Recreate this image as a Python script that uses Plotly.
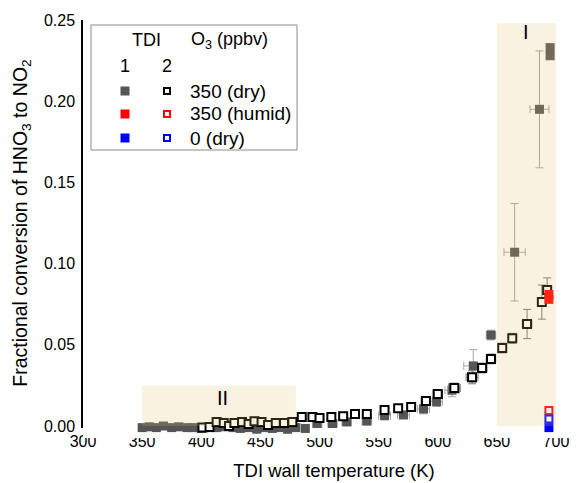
import plotly.graph_objects as go

# ---------------- data ----------------
# TDI 1, 350 ppbv O3 (dry) - filled grey
t1_dry_T = [350, 356, 362, 368, 375, 381, 388, 394, 400, 407, 413, 420, 427, 433, 440, 447, 453, 460,
            467, 473, 480, 488, 498, 511, 523, 540, 555, 571, 588, 599, 612, 630, 645, 665, 686, 695, 695]
t1_dry_v = [-0.001, -0.0005, -0.001, 0.0, -0.001, -0.0005, -0.001, -0.001, -0.0015, -0.001, -0.001,
            -0.0005, -0.001, -0.0015, -0.001, -0.002, -0.001, -0.0015, -0.001, -0.002, -0.001, -0.0015,
            0.0015, 0.0015, 0.0025, 0.003, 0.0063, 0.0068, 0.0105, 0.015, 0.022, 0.037, 0.056, 0.107,
            0.195, 0.228, 0.233]
t1_dry_ey = [0.001, 0.001, 0.001, 0.001, 0.001, 0.001, 0.001, 0.001, 0.001, 0.001, 0.001, 0.001, 0.001,
             0.001, 0.001, 0.001, 0.001, 0.001, 0.001, 0.001, 0.001, 0.001, 0.001, 0.002, 0.002, 0.002,
             0.002, 0.002, 0.003, 0.003, 0.004, 0.010, 0.003, 0.030, 0.036, 0.0, 0.0]
t1_dry_ex = [3, 3, 3, 3, 3, 3, 3, 3, 3, 3, 3, 3, 3, 3, 3, 3, 3, 3, 3, 3, 3, 3, 4, 4, 4, 4, 5, 5, 5, 5, 6,
             8, 4, 9, 8, 0, 0]

# TDI 2, 350 ppbv O3 (dry) - open black
t2_dry_T = [401, 407, 413, 419, 423.5, 428, 434.5, 440, 445, 451, 456.5, 463, 470, 477, 485, 494, 500,
            510, 520, 530, 540, 555, 566.5, 577.5, 590, 600, 614, 629, 637.5, 645, 654.5, 663, 675.5,
            688, 692.5]
t2_dry_v = [-0.001, -0.0006, 0.0025, 0.0018, 0.0, 0.0018, 0.0025, 0.0012, 0.003, 0.0025, 0.0006, 0.0018,
            0.0018, 0.0025, 0.0055, 0.0055, 0.005, 0.0055, 0.006, 0.0074, 0.0074, 0.0098, 0.011, 0.0117,
            0.0154, 0.0197, 0.0234, 0.030, 0.0357, 0.0413, 0.048, 0.054, 0.0628, 0.0763, 0.0837]
t2_dry_ey = [0.001, 0.001, 0.001, 0.001, 0.001, 0.001, 0.001, 0.001, 0.001, 0.001, 0.001, 0.001, 0.001,
             0.001, 0.001, 0.001, 0.001, 0.001, 0.001, 0.001, 0.001, 0.0015, 0.0015, 0.0015, 0.002, 0.002,
             0.003, 0.004, 0.003, 0.003, 0.003, 0.003, 0.009, 0.0105, 0.0075]
t2_dry_ex = [2, 2, 2, 2, 2, 2, 2, 2, 2, 2, 2, 2, 2, 2, 2, 2, 2, 3, 3, 3, 3, 3, 3, 3, 4, 4, 5, 5, 4, 4,
             3, 3, 4, 3, 3]

# TDI 1, 350 ppbv O3 (humid) - filled red
t1_hum_T = [694, 694]
t1_hum_v = [0.081, 0.078]
# TDI 2, 350 ppbv O3 (humid) - open red
t2_hum_T = [694]
t2_hum_v = [0.0095]
# TDI 1, 0 ppbv O3 (dry) - filled blue
t1_zero_T = [694]
t1_zero_v = [-0.001]
# TDI 2, 0 ppbv O3 (dry) - open blue
t2_zero_T = [694]
t2_zero_v = [0.0043]

x_ticks = [300, 350, 400, 450, 500, 550, 600, 650, 700]
y_ticks = [0.00, 0.05, 0.10, 0.15, 0.20, 0.25]
y_tick_labels = ["0.00", "0.05", "0.10", "0.15", "0.20", "0.25"]

region_I = dict(x0=650, x1=700, y0=0.0, y1=0.248)
region_II = dict(x0=350, x1=480, y0=0.0, y1=0.025)

legend_rows = ["350 (dry)", "350 (humid)", "0 (dry)"]

# ---------------- style ----------------
GREY = "rgb(85,85,85)"
ERR = "rgb(165,165,165)"
FONT = "Liberation Sans, Arial, sans-serif"

W, H = 586, 483
OFF = 8                # default page body margin that offsets the figure
L, T = 83, 20          # plot-area left / top on the page (px)
PW, PH = 502, 406      # visible axes box (px)
EXT = 12               # extra px below y=0 where data markers may spill
Y_MAX = 0.25
Y_MIN_DATA = -EXT * Y_MAX / PH
PH_ALL = PH + EXT

fig = go.Figure()

common = dict(mode="markers", cliponaxis=False, xaxis="x", yaxis="y2", showlegend=False)

fig.add_trace(go.Scatter(
    x=t1_dry_T, y=t1_dry_v,
    marker=dict(symbol="square", size=9, color=GREY),
    error_y=dict(type="data", array=t1_dry_ey, color=ERR, thickness=1, width=4),
    error_x=dict(type="data", array=t1_dry_ex, color=ERR, thickness=1, width=4), **common))

fig.add_trace(go.Scatter(
    x=t2_dry_T, y=t2_dry_v,
    marker=dict(symbol="square", size=8, color="white", line=dict(color="black", width=2)),
    error_y=dict(type="data", array=t2_dry_ey, color="rgb(120,120,120)", thickness=1, width=4),
    error_x=dict(type="data", array=t2_dry_ex, color="rgb(120,120,120)", thickness=1, width=4),
    **common))

fig.add_trace(go.Scatter(x=t1_hum_T, y=t1_hum_v,
                         marker=dict(symbol="square", size=9, color="rgb(255,0,0)"), **common))
fig.add_trace(go.Scatter(x=t2_hum_T, y=t2_hum_v,
                         marker=dict(symbol="square", size=7, color="white",
                                     line=dict(color="rgb(255,0,0)", width=2)), **common))
fig.add_trace(go.Scatter(x=t1_zero_T, y=t1_zero_v,
                         marker=dict(symbol="square", size=9, color="rgb(0,0,255)"), **common))
fig.add_trace(go.Scatter(x=t2_zero_T, y=t2_zero_v,
                         marker=dict(symbol="square", size=7, color="white",
                                     line=dict(color="rgb(0,0,255)", width=2)), **common))

shapes = []
for reg in (region_I, region_II):
    shapes.append(dict(type="rect", xref="x", yref="y", layer="above", line=dict(width=0),
                       fillcolor="rgb(230,190,105)", opacity=0.2, **reg))


def px2paper(px, py):
    return (px - L) / PW, (T + PH_ALL - py) / PH_ALL


# ---- manual legend (paper coordinates) ----
bx0, by0 = px2paper(91, 150)
bx1, by1 = px2paper(297, 25)
shapes.append(dict(type="rect", xref="paper", yref="paper", x0=bx0, x1=bx1, y0=by0, y1=by1,
                   line=dict(color="rgb(140,140,140)", width=1), fillcolor="white", layer="above"))

row_py = [91, 114, 138]
fill_cols = [GREY, "rgb(255,0,0)", "rgb(0,0,255)"]
open_cols = ["black", "rgb(255,0,0)", "rgb(0,0,255)"]
annotations = []
for py, fc, oc, lab in zip(row_py, fill_cols, open_cols, legend_rows):
    cx, cy = px2paper(125, py)
    hw, hh = 4.5 / PW, 4.5 / PH_ALL
    shapes.append(dict(type="rect", xref="paper", yref="paper", x0=cx - hw, x1=cx + hw,
                       y0=cy - hh, y1=cy + hh, fillcolor=fc, line=dict(width=0), layer="above"))
    cx, cy = px2paper(167, py)
    hw, hh = 3 / PW, 3 / PH_ALL
    shapes.append(dict(type="rect", xref="paper", yref="paper", x0=cx - hw, x1=cx + hw,
                       y0=cy - hh, y1=cy + hh, fillcolor="white", line=dict(color=oc, width=2),
                       layer="above"))
    tx, ty = px2paper(188, py)
    annotations.append(dict(x=tx, y=ty, xref="paper", yref="paper", text=lab, showarrow=False,
                            xanchor="left", yanchor="middle", font=dict(size=19, color="black")))

for txt, pxx, pyy in [("TDI", 146, 40), ("O<sub>3</sub> (ppbv)", 229, 41), ("1", 125, 66), ("2", 167, 66)]:
    ax, ay = px2paper(pxx, pyy)
    annotations.append(dict(x=ax, y=ay, xref="paper", yref="paper", text=txt, showarrow=False,
                            xanchor="center", yanchor="middle", font=dict(size=18, color="black")))

annotations.append(dict(x=675, y=0.2425, xref="x", yref="y", text="I", showarrow=False,
                        font=dict(size=20, color="black")))
annotations.append(dict(x=418, y=0.0175, xref="x", yref="y", text="II", showarrow=False,
                        font=dict(size=20, color="black")))

fig.update_layout(
    width=W, height=H,
    margin=dict(l=L - OFF, r=W - (L - OFF) - PW, t=T - OFF, b=H - (T - OFF) - PH_ALL),
    plot_bgcolor="white", paper_bgcolor="white",
    font=dict(family=FONT, color="black", size=16),
    shapes=shapes, annotations=annotations,
    showlegend=False,
    xaxis=dict(range=[300, 724.5], tickvals=x_ticks, ticks="inside", ticklen=6, tickwidth=1.5,
               anchor="y", automargin=False,
               showline=True, linecolor="black", linewidth=1.5, showgrid=False, zeroline=False,
               tickfont=dict(size=16), title=dict(text="TDI wall temperature (K)", font=dict(size=18.5),
                                                   standoff=15)),
    yaxis=dict(range=[0, Y_MAX], domain=[EXT / PH_ALL, 1], tickvals=y_ticks, ticktext=y_tick_labels,
               ticks="inside", ticklen=6, anchor="x", automargin=False, ticklabelstandoff=3,
               tickwidth=1.5, showline=True, linecolor="black", linewidth=1.5, showgrid=False,
               zeroline=False, tickfont=dict(size=16),
               title=dict(text="Fractional conversion of HNO<sub>3</sub> to NO<sub>2</sub>",
                          font=dict(size=19.5), standoff=11)),
    yaxis2=dict(range=[Y_MIN_DATA, Y_MAX], domain=[0, 1], visible=False, anchor="x",
                showgrid=False, zeroline=False, fixedrange=True),
)

fig.write_html("out.html")
